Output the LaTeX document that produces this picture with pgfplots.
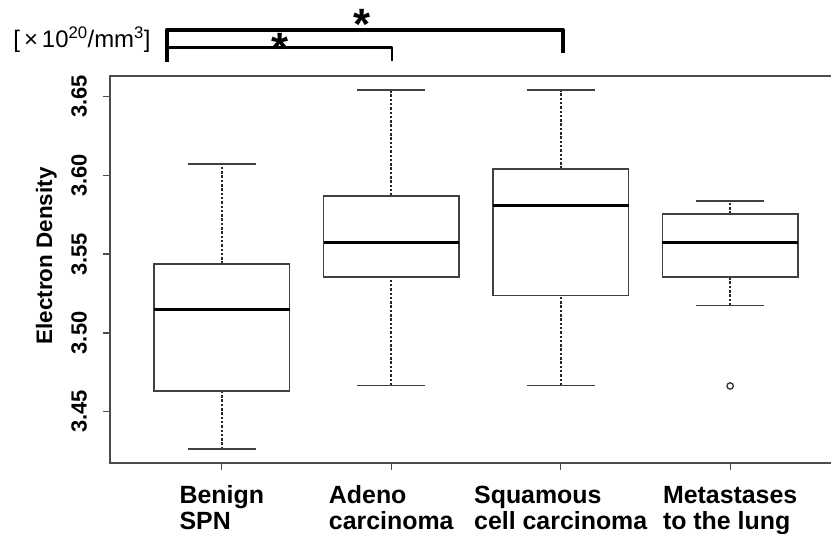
\documentclass[border=0pt]{standalone}
\usepackage{pgfplots}
\pgfplotsset{compat=1.18}
\usepgfplotslibrary{statistics}
\usepackage{fontspec}
\setmainfont{Liberation Sans}
\begin{document}
\begin{tikzpicture}
\begin{axis}[
  at={(110bp,71bp)}, anchor=south west,
  scale only axis, width=732bp, height=387bp,
  xmin=0.34, xmax=4.66, ymin=3.4174, ymax=3.6631,
  clip=false,
  axis line style={black!70, line width=1.3bp},
  xtick={1,2,3,4},
  xticklabels={{\strut Benign\\SPN},{\strut Adeno\\carcinoma},{\strut Squamous\\cell carcinoma},{\strut Metastases\\to the lung}},
  ytick={3.45,3.50,3.55,3.60,3.65},
  xtick pos=left, ytick pos=left,
  tick align=outside,
  major tick length=7bp,
  every tick/.style={black!70, line width=1.3bp},
  /pgf/number format/.cd, fixed, fixed zerofill, precision=2, assume math mode=true,
  /pgfplots/.cd,
  yticklabel shift=16bp,
  yticklabel style={rotate=90, anchor=south, inner sep=0pt, font=\fontsize{22}{22}\selectfont\bfseries},
  xticklabel style={align=left, anchor=north, inner sep=0pt, yshift=-15bp, font=\fontsize{25}{26}\selectfont\bfseries},
  ylabel={Electron Density},
  every axis y label/.style={at={(axis description cs:-0.087,0.535)}, rotate=90, anchor=center, font=\fontsize{22.5}{22.5}\selectfont\bfseries},
  boxplot/draw direction=y,
  boxplot/box extend=0.8,
  boxplot/whisker extend=0.4,
  boxplot/every box/.style={black!75, line width=1.6bp},
  boxplot/every median/.style={black, line width=3bp},
  boxplot/draw/lower whisker/.code={
    \draw[black!85, line width=1.6bp, dash pattern=on 2.5bp off 1.8bp] (boxplot cs:\pgfplotsboxplotvalue{lower whisker}) -- (boxplot cs:\pgfplotsboxplotvalue{lower quartile});
    \draw[black!75, line width=1.6bp] (boxplot whisker cs:\pgfplotsboxplotvalue{lower whisker},0) -- (boxplot whisker cs:\pgfplotsboxplotvalue{lower whisker},1);
  },
  boxplot/draw/upper whisker/.code={
    \draw[black!85, line width=1.6bp, dash pattern=on 2.5bp off 1.8bp] (boxplot cs:\pgfplotsboxplotvalue{upper quartile}) -- (boxplot cs:\pgfplotsboxplotvalue{upper whisker});
    \draw[black!75, line width=1.6bp] (boxplot whisker cs:\pgfplotsboxplotvalue{upper whisker},0) -- (boxplot whisker cs:\pgfplotsboxplotvalue{upper whisker},1);
  },
]
% Benign SPN
\addplot[black!75, line width=1.6bp, boxplot prepared={draw position=1,
  lower whisker=3.4261, lower quartile=3.4633, median=3.5150,
  upper quartile=3.5438, upper whisker=3.6073}] coordinates {};
% Adenocarcinoma
\addplot[black!75, line width=1.6bp, boxplot prepared={draw position=2,
  lower whisker=3.4667, lower quartile=3.5353, median=3.5573,
  upper quartile=3.5871, upper whisker=3.6543}] coordinates {};
% Squamous cell carcinoma
\addplot[black!75, line width=1.6bp, boxplot prepared={draw position=3,
  lower whisker=3.4667, lower quartile=3.5237, median=3.5806,
  upper quartile=3.6041, upper whisker=3.6543}] coordinates {};
% Metastases to the lung
\addplot[black!75, line width=1.6bp, mark=o, mark size=3.2bp,
  mark options={solid, line width=1.3bp, black!80},
  boxplot prepared={draw position=4,
  lower whisker=3.5174, lower quartile=3.5353, median=3.5573,
  upper quartile=3.5755, upper whisker=3.5838}] coordinates {(4,3.4663)};
% significance brackets
\addplot[black, line width=4bp, line join=round, mark=none] coordinates {(0.675,3.6720) (0.675,3.6923) (3.013,3.6923) (3.013,3.6777)};
\addplot[black, line width=2.5bp, line join=round, mark=none] coordinates {(0.675,3.6812) (2.0035,3.6812) (2.0035,3.6727)};
\node[anchor=base, inner sep=0pt, font=\fontsize{44}{44}\selectfont\bfseries] at (axis cs:1.8264,3.6865) {*};
\node[anchor=base, inner sep=0pt, font=\fontsize{44}{44}\selectfont\bfseries] at (axis cs:1.3424,3.6713) {*};
\end{axis}
\node[anchor=center, inner sep=0pt, font=\fontsize{24}{24}\selectfont] at (82bp,494bp) {[\,×\,10\textsuperscript{20}/mm\textsuperscript{3}]};
\pgfresetboundingbox
\path[use as bounding box] (0,0) rectangle (831bp,534bp);
\end{tikzpicture}
\end{document}
